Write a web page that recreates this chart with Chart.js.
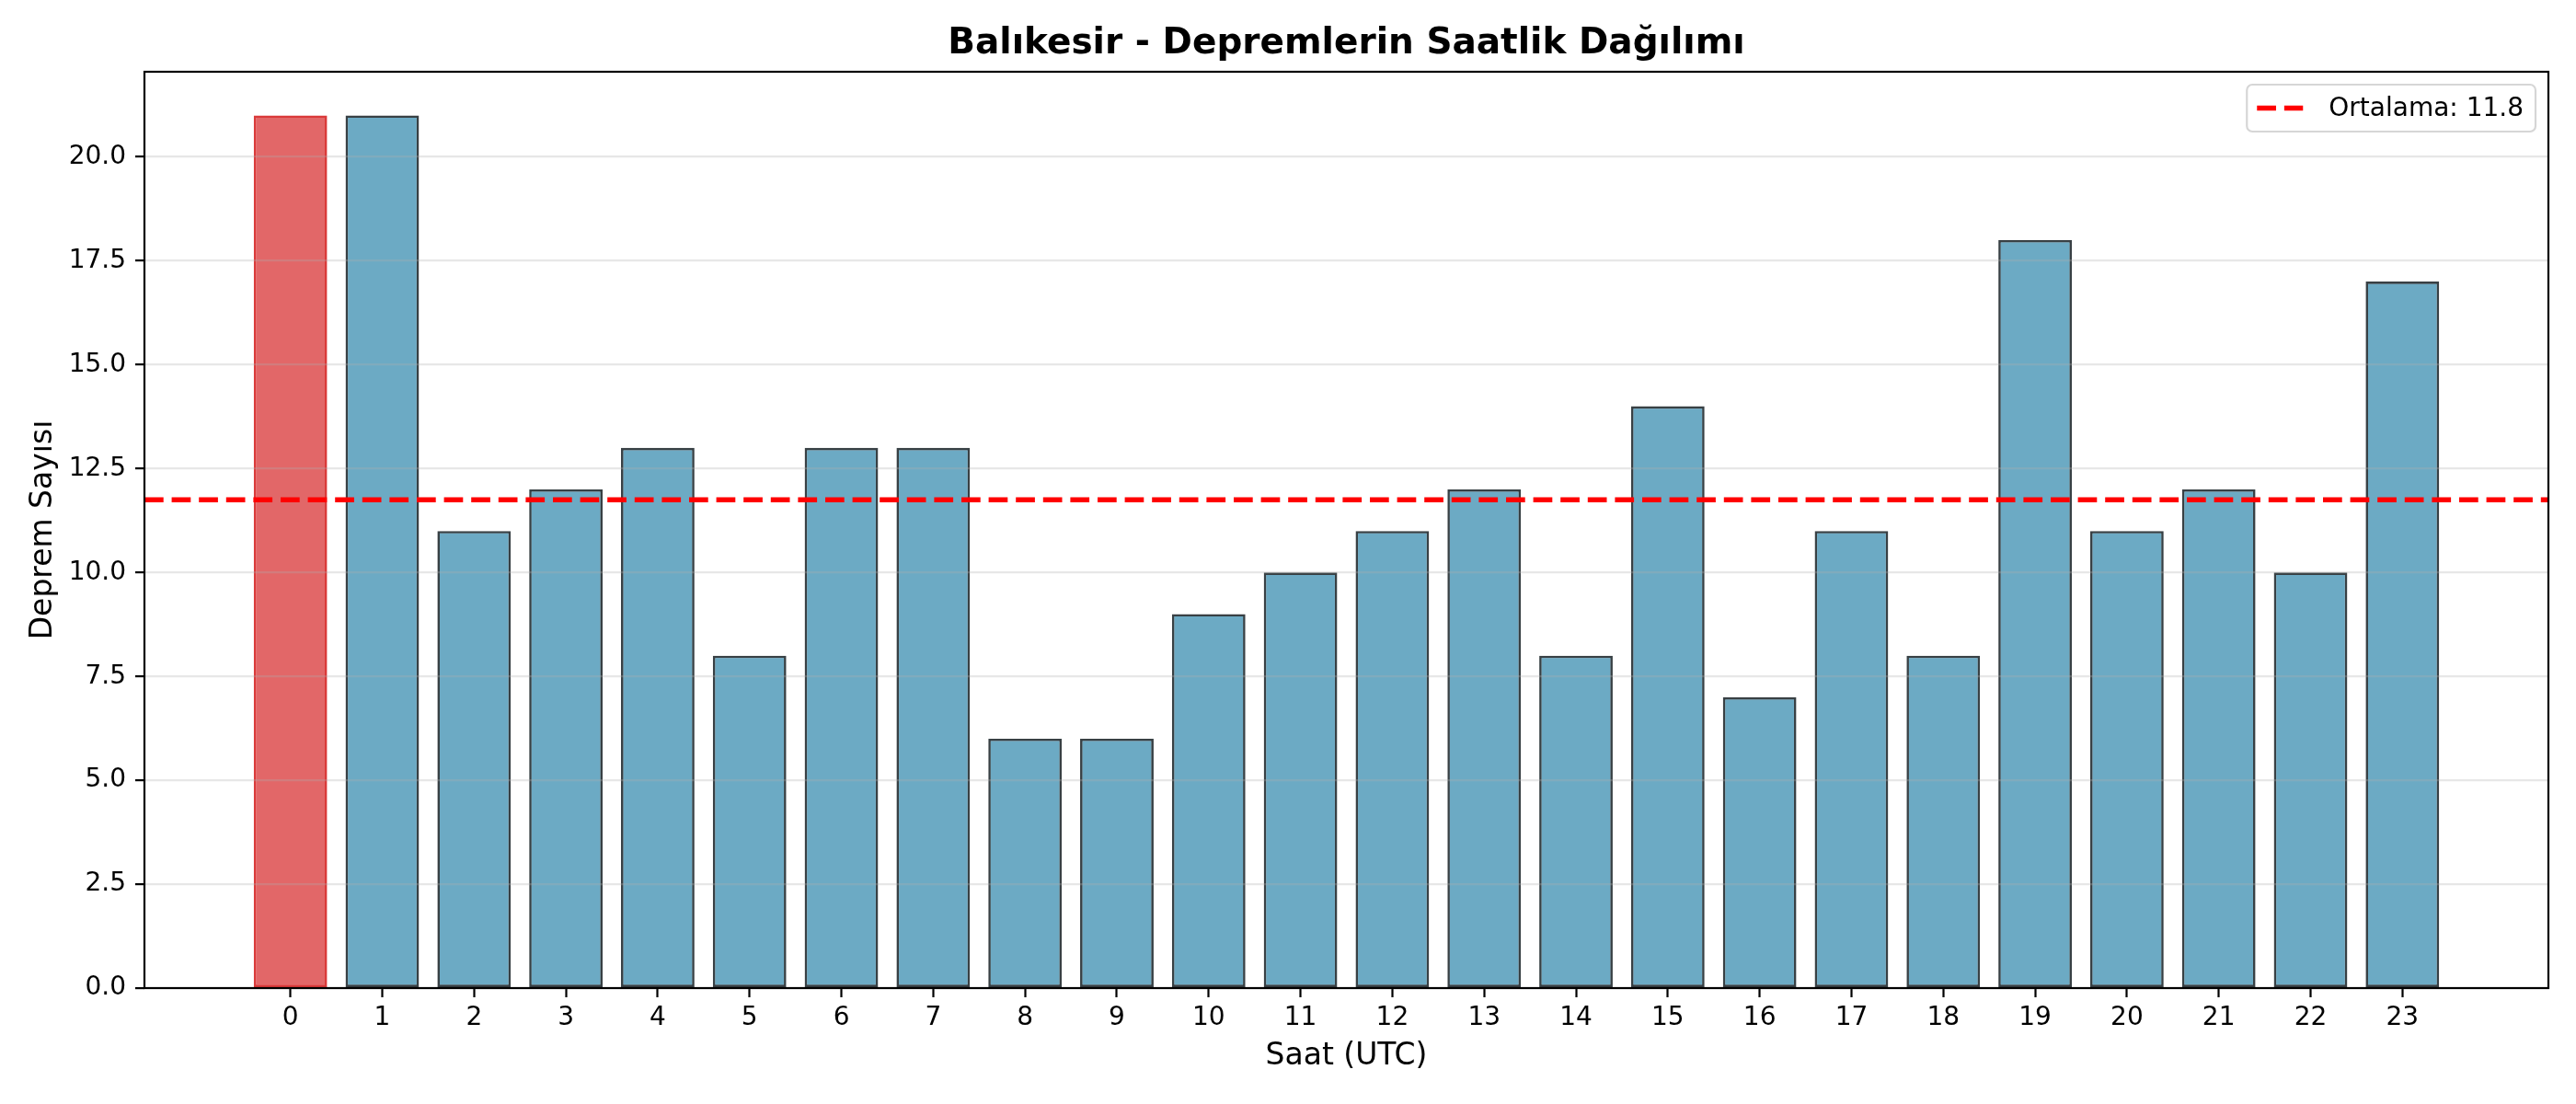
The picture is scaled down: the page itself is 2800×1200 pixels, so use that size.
<!DOCTYPE html>
<html>
<head>
<meta charset="utf-8">
<script src="https://cdn.jsdelivr.net/npm/chart.js@4"></script>
<style>
  html, body { margin: 0; padding: 0; background: #fff; }
  canvas { display: block; }
</style>
</head>
<body>
<canvas id="hourChart" width="2800" height="1200"></canvas>
<script>
const hours = [0, 1, 2, 3, 4, 5, 6, 7, 8, 9, 10, 11, 12, 13, 14, 15, 16, 17, 18, 19, 20, 21, 22, 23];
const counts = [21, 21, 11, 12, 13, 8, 13, 13, 6, 6, 9, 10, 11, 12, 8, 14, 7, 11, 8, 18, 11, 12, 10, 17];
const chartTitle = "Balıkesir - Depremlerin Saatlik Dağılımı";
const xTitle = "Saat (UTC)";
const yTitle = "Deprem Sayısı";

const xMin = -1.59;
const xMax = 24.59;
const yMax = 22.05;

const FONT = "'DejaVu Sans', sans-serif";

const mean = counts.reduce((a, b) => a + b, 0) / counts.length;
const maxIdx = counts.indexOf(Math.max(...counts));

const barFill = counts.map((_, i) => i === maxIdx ? "rgba(214,39,40,0.7)" : "rgba(46,134,171,0.7)");
const barEdge = counts.map((_, i) => i === maxIdx ? "rgb(218,58,58)" : "rgb(56,64,68)");

// title, frame and the boxed legend, drawn like matplotlib does
const extras = {
  id: "extras",
  afterDraw(chart) {
    const { ctx, chartArea: a } = chart;
    ctx.save();
    ctx.strokeStyle = "#000";
    ctx.lineWidth = 2.2;
    ctx.strokeRect(a.left, a.top, a.right - a.left, a.bottom - a.top);

    ctx.fillStyle = "#000";
    ctx.font = "bold 39px " + FONT;
    ctx.textAlign = "center";
    ctx.textBaseline = "middle";
    ctx.fillText(chartTitle, (a.left + a.right) / 2, 48);

    // legend
    const label = chart.data.datasets[1].label;
    ctx.font = "28px " + FONT;
    const tw = ctx.measureText(label).width;
    const w = tw + 102, h = 51;
    const x = a.right - 14 - w, y = a.top + 14;
    ctx.beginPath();
    ctx.roundRect(x, y, w, h, 6);
    ctx.fillStyle = "rgba(255,255,255,0.8)";
    ctx.fill();
    ctx.strokeStyle = "#d6d6d6";
    ctx.lineWidth = 2.2;
    ctx.stroke();

    ctx.beginPath();
    ctx.setLineDash([20.7, 8.9]);
    ctx.strokeStyle = "red";
    ctx.lineWidth = 5.6;
    ctx.moveTo(x + 11, y + h / 2);
    ctx.lineTo(x + 61, y + h / 2);
    ctx.stroke();
    ctx.setLineDash([]);

    ctx.fillStyle = "#000";
    ctx.textAlign = "left";
    ctx.fillText(label, x + 89, y + h / 2 + 1);
    ctx.restore();
  }
};

new Chart(document.getElementById("hourChart"), {
  type: "bar",
  data: {
    datasets: [
      {
        label: "Deprem",
        data: hours.map((h, i) => ({ x: h, y: counts[i] })),
        backgroundColor: barFill,
        borderColor: barEdge,
        borderWidth: 2.6,
        borderSkipped: false,
        categoryPercentage: 1,
        barPercentage: 0.8,
        order: 2
      },
      {
        type: "line",
        label: "Ortalama: " + mean.toFixed(1),
        data: [{ x: xMin, y: mean }, { x: xMax, y: mean }],
        borderColor: "red",
        borderWidth: 5.6,
        borderDash: [20.7, 8.9],
        pointRadius: 0,
        fill: false,
        order: 1
      }
    ]
  },
  options: {
    responsive: false,
    animation: false,
    devicePixelRatio: 1,
    layout: { padding: { top: 78, right: 30, left: 0, bottom: 0 } },
    plugins: {
      legend: { display: false },
      title: { display: false },
      tooltip: { enabled: false }
    },
    scales: {
      x: {
        type: "linear",
        min: xMin,
        max: xMax,
        offset: false,
        afterFit: (s) => { s.height = 126; },
        afterBuildTicks: (s) => { s.ticks = hours.map((v) => ({ value: v })); },
        ticks: {
          color: "#000",
          font: { family: FONT, size: 28 },
          padding: 6,
          maxRotation: 0,
          autoSkip: false,
          callback: (v) => String(v)
        },
        grid: {
          offset: false,
          drawOnChartArea: false,
          drawTicks: true,
          tickLength: 10,
          tickColor: "#000",
          tickWidth: 2.2
        },
        border: { display: false },
        title: {
          display: true,
          text: xTitle,
          color: "#000",
          font: { family: FONT, size: 33 },
          padding: { top: 0, bottom: 32 }
        }
      },
      y: {
        min: 0,
        max: yMax,
        afterFit: (s) => { s.width = 157; },
        ticks: {
          stepSize: 2.5,
          includeBounds: false,
          color: "#000",
          font: { family: FONT, size: 28 },
          padding: 10,
          callback: (v) => v.toFixed(1)
        },
        grid: {
          color: "rgba(176,176,176,0.3)",
          lineWidth: 2.2,
          tickLength: 10,
          tickColor: "#000",
          tickWidth: 2.2,
          z: 1
        },
        border: { display: false },
        title: {
          display: true,
          text: yTitle,
          color: "#000",
          font: { family: FONT, size: 33 },
          padding: { top: 28, bottom: 0 }
        }
      }
    }
  },
  plugins: [extras]
});
</script>
</body>
</html>
